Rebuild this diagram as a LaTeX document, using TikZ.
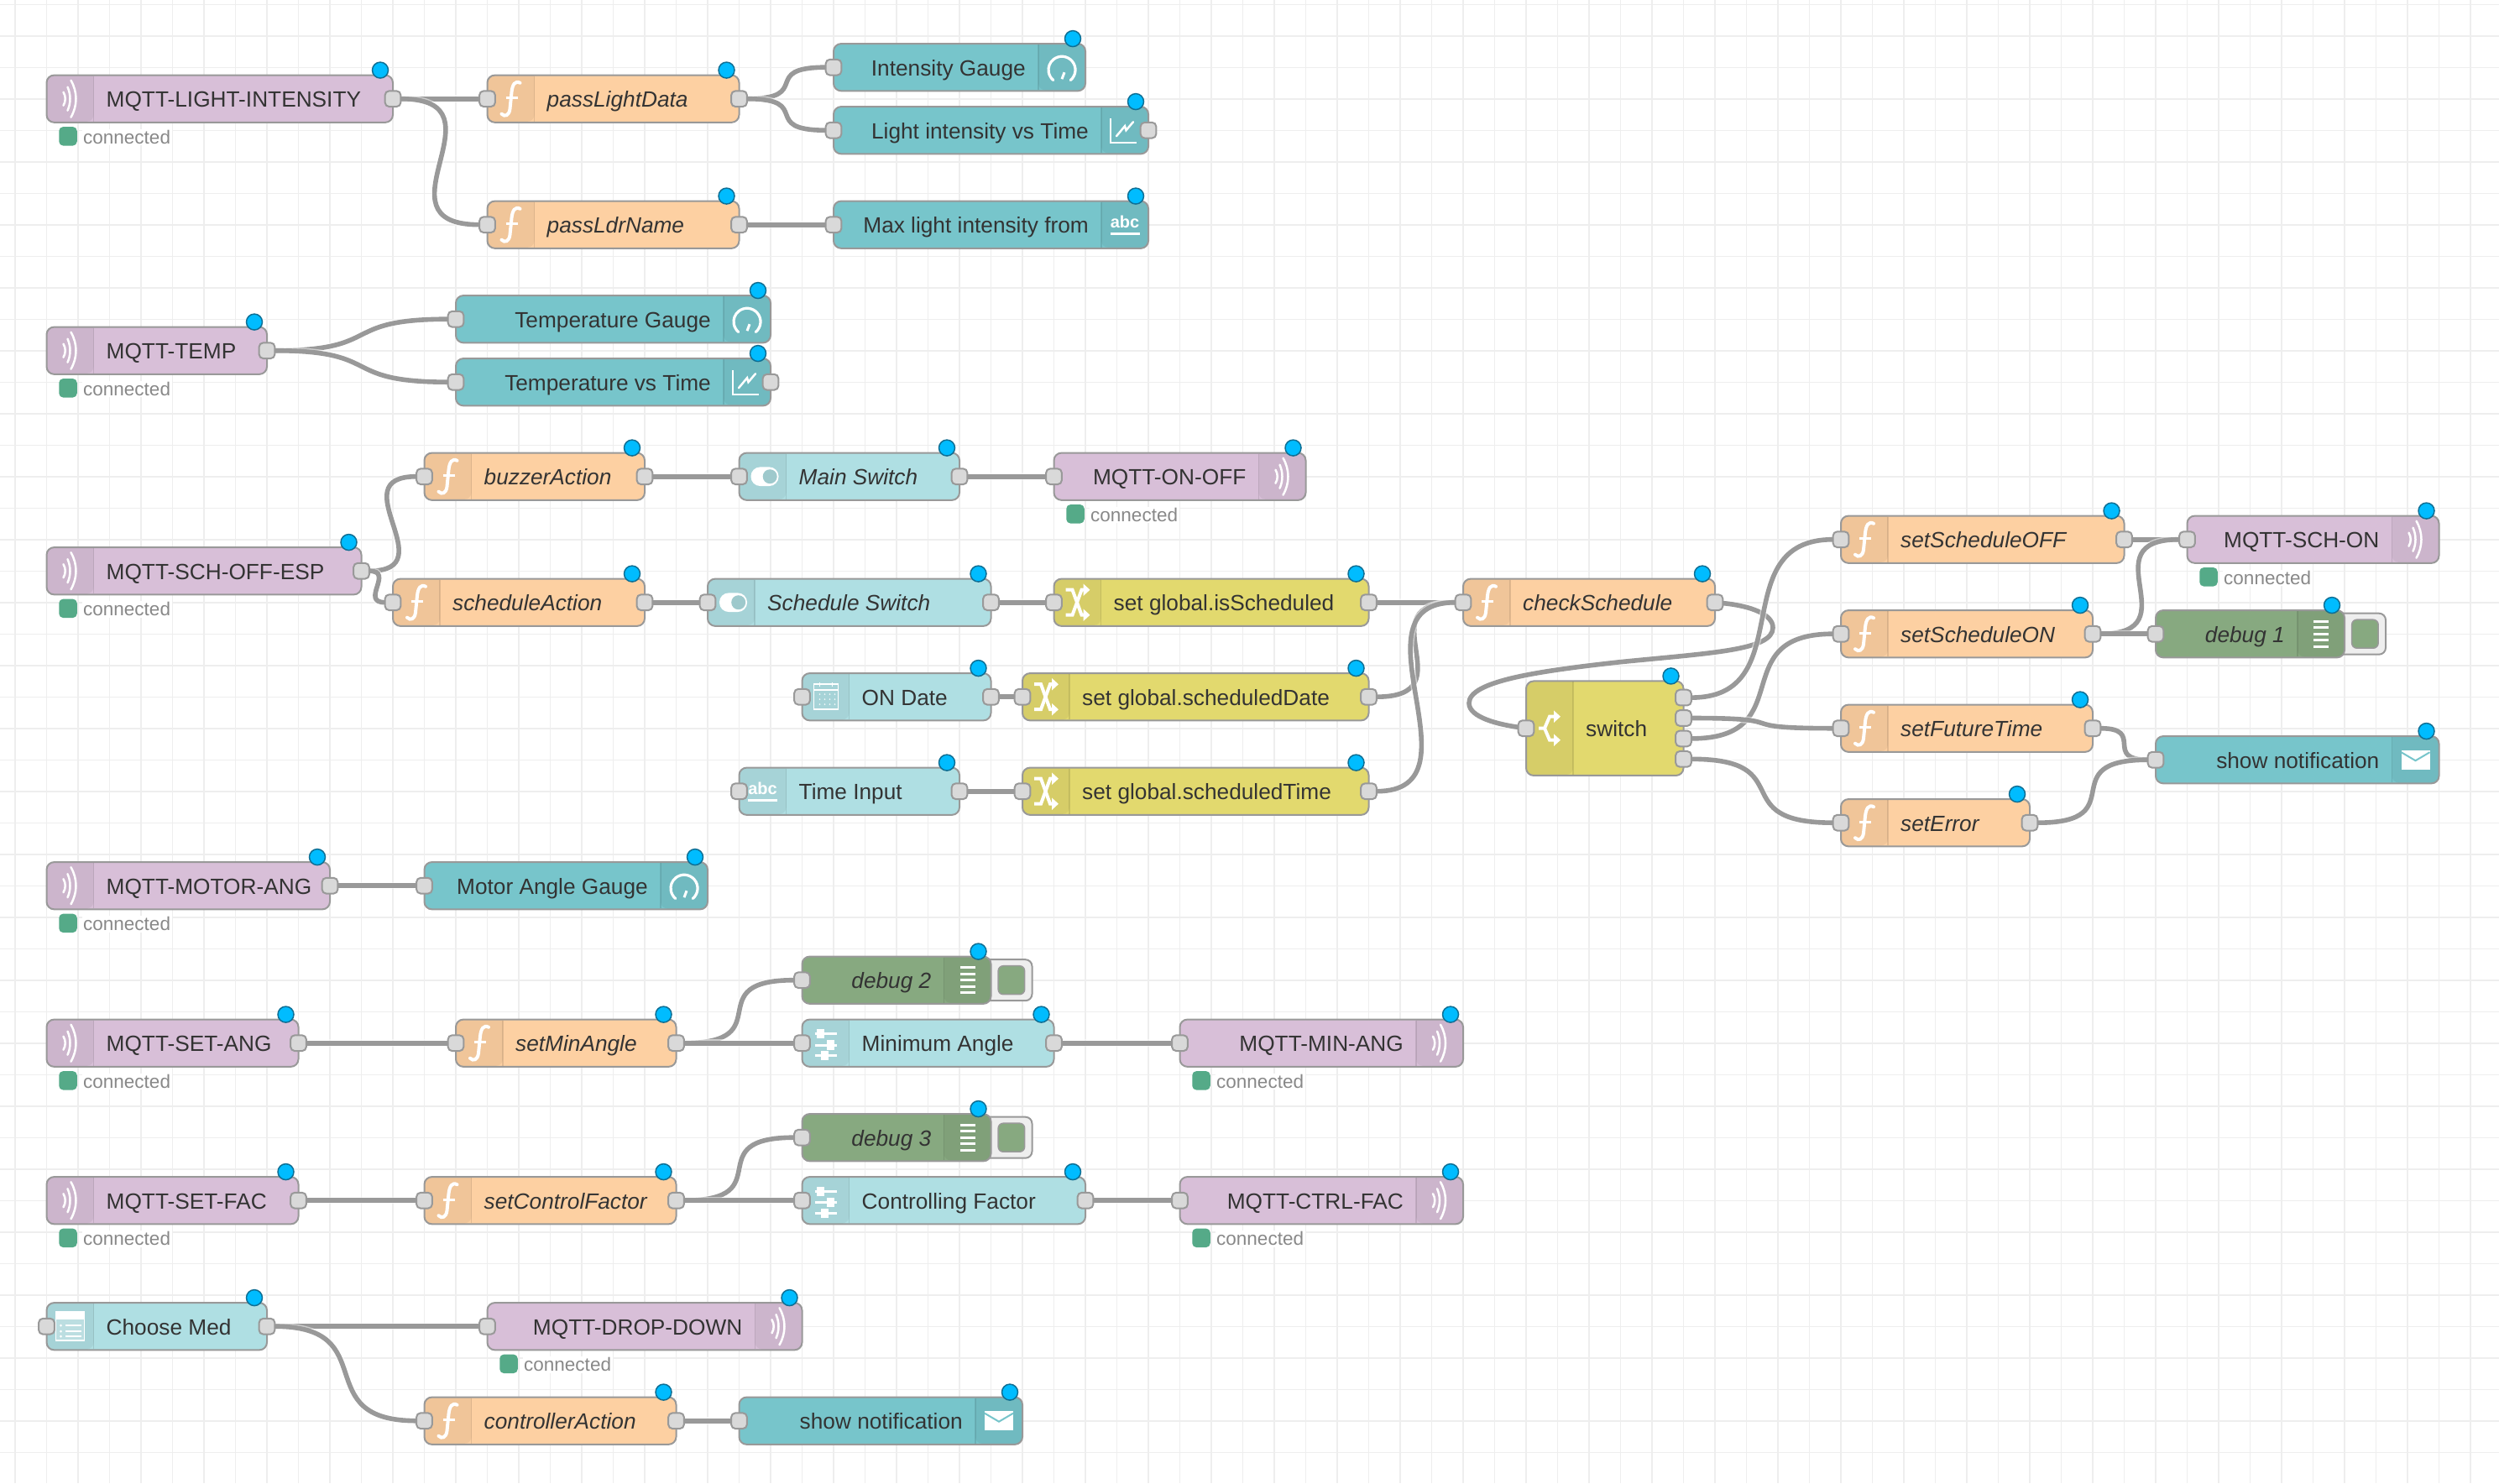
\documentclass[tikz,border=0pt]{standalone}
\usepackage{fontspec}
\setmainfont{Liberation Sans}
\usetikzlibrary{calc, backgrounds, arrows.meta}
\definecolor{edgegray}{HTML}{999999}
\definecolor{gridgray}{HTML}{EEEEEE}
\definecolor{portgray}{HTML}{D9D9D9}
\definecolor{inkgray}{HTML}{333333}
\definecolor{mutedgray}{HTML}{888888}
\definecolor{mqttfill}{HTML}{D8BFD8}
\definecolor{fnfill}{HTML}{FDD0A2}
\definecolor{tealfill}{HTML}{77C5CB}
\definecolor{paleteal}{HTML}{AFDFE3}
\definecolor{yellowfill}{HTML}{E2D96E}
\definecolor{debugfill}{HTML}{87A980}
\definecolor{changedblue}{HTML}{00BCFF}
\definecolor{changededge}{HTML}{0F6F94}
\definecolor{statusgreen}{HTML}{55AA88}
\tikzset{
    flownode/.style = {draw=edgegray, rectangle, rounded corners=9pt, line width=2pt,
      minimum height=56.25pt, inner sep=0pt, outer sep=0pt},
    mqttnode/.style = {flownode, fill=mqttfill},
    fnnode/.style = {flownode, fill=fnfill},
    tealnode/.style = {flownode, fill=tealfill},
    palenode/.style = {flownode, fill=paleteal},
    yellownode/.style = {flownode, fill=yellowfill},
    debugnode/.style = {flownode, fill=debugfill},
    portnode/.style = {draw=edgegray, fill=portgray, rectangle, rounded corners=5pt, line width=2pt,
      minimum size=18.75pt, inner sep=0pt, outer sep=0pt},
    dotnode/.style = {draw=changededge, fill=changedblue, circle, line width=1.5pt,
      minimum size=19pt, inner sep=0pt},
    statusdot/.style = {fill=statusgreen, rectangle, rounded corners=5pt, minimum width=21.5pt,
      minimum height=22.5pt, inner sep=0pt},
    labelnode/.style = {text=inkgray, inner sep=0pt, font=\fontsize{26.25}{30}\selectfont},
    statustext/.style = {text=mutedgray, fill=white, inner sep=1.5pt, font=\fontsize{22.5}{26}\selectfont},
    buttonback/.style = {draw=edgegray, fill=gridgray, rectangle, rounded corners=8pt, line width=2pt,
      minimum width=63pt, minimum height=49pt, inner sep=0pt},
    buttonface/.style = {draw=edgegray, fill=debugfill, rectangle, rounded corners=6pt, line width=1.5pt,
      minimum width=31.5pt, minimum height=34pt, inner sep=0pt},
    iconshade/.style = {black, fill opacity=0.05},
    icondivider/.style = {black, draw opacity=0.1, line width=1.5pt},
    iconline/.style = {draw=white, line width=3pt},
    gridline/.style = {draw=gridgray, line width=1.2pt},
    gridmajor/.style = {draw=gridgray, line width=2.2pt},
    halo/.style = {preaction={draw=white, draw opacity=0.5, line width=8.5pt}},
    wirebase/.style = {draw=edgegray, line width=5.6pt, halo},
    wire/.style = {wirebase, to path={let \p1=(\tikztostart), \p2=(\tikztotarget),
      \n1={min(140.6pt,0.75*veclen(\x2-\x1,\y2-\y1))} in
      .. controls ($(\tikztostart)+(\n1,0pt)$) and ($(\tikztotarget)-(\n1,0pt)$) .. (\tikztotarget)}},
    pics/fnicon/.style = {code={
      \draw [iconline, line width=4pt, line cap=round] (11,19) .. controls (5,22) and (2,17) .. (1,8) -- (-1,-12)
        .. controls (-2,-20) and (-7,-22) .. (-11,-18);
      \draw [iconline, line width=3.2pt] (-6,1) -- (8,1);
    }},
    pics/waveicon/.style = {code={
      \draw [iconline, line width=2.5pt, line cap=round] (-8,8) .. controls (-5,3) and (-5,-3) .. (-8,-8);
      \draw [iconline, line width=2.5pt, line cap=round] (-3,14) .. controls (1,5) and (1,-5) .. (-3,-14);
      \draw [iconline, line width=2.5pt, line cap=round] (1,22) .. controls (9,8) and (9,-8) .. (1,-22);
    }},
    pics/gaugeicon/.style = {code={
      \draw [iconline, line width=3.2pt, line cap=round] (10.3,-15.3) arc[start angle=-50, end angle=230, radius=16pt];
      \draw [iconline, line width=3pt] (3,-6) -- (0,-14);
    }},
    pics/charticon/.style = {code={
      \draw [iconline, line width=1.5pt] (-17,14) -- (-17,-15) -- (14,-15);
      \draw [iconline, line width=2.5pt, line cap=round] (-10,-7) -- (0,5) -- (1.5,0) -- (10,10);
    }},
    pics/abcicon/.style = {code={
      \node [text=white, inner sep=0pt, font=\bfseries\fontsize{20}{20}\selectfont, name=abcText] at (0,3) {abc};
      \draw [iconline, line width=3pt] (-17.5,-11) -- (17.5,-11);
    }},
    pics/mailicon/.style = {code={
      \fill [white] (-17,-11.5) rectangle (17,11.5);
      \draw [tealfill, line width=2pt] (-17,9) -- (0,-1) -- (17,9);
    }},
    pics/debugicon/.style = {code={
      \foreach \rowy in {-15,-7.5,0,7.5,15} {
        \draw [iconline, line width=3pt] (-9,\rowy) -- (9,\rowy);
      }
    }},
    pics/forkicon/.style = {code={
      \draw [iconline, line width=4pt, -{Triangle[length=8pt,width=14pt]}] (-13,0) -- (-6,0) -- (0,14) -- (13,14);
      \draw [iconline, line width=4pt, -{Triangle[length=8pt,width=14pt]}] (-6,0) -- (0,-14) -- (13,-14);
    }},
    pics/changeicon/.style = {code={
      \draw [iconline, line width=4pt, -{Triangle[length=8pt,width=14pt]}] (-14,15) -- (-6,15) -- (5,-15) -- (15,-15);
      \draw [iconline, line width=4pt, -{Triangle[length=8pt,width=14pt]}] (-14,-15) -- (-6,-15) -- (5,15) -- (15,15);
    }},
    pics/toggleicon/.style = {code={
      \fill [white, rounded corners=11pt] (-14,-11.3) rectangle (19,11.3);
      \fill [paleteal!90!black] (8.7,0) circle (8.5pt);
    }},
    pics/calendaricon/.style = {code={
      \draw [iconline, line width=1.5pt] (-14,-15) rectangle (15,15);
      \draw [iconline, line width=1.5pt] (-14,8) -- (15,8);
      \draw [iconline, line width=1.5pt] (-7,17) -- (-7,12);
      \draw [iconline, line width=1.5pt] (8,17) -- (8,12);
      \foreach \coly in {3,-3,-9} {
        \foreach \colx in {-7,-1,5,11} {
          \fill [white, fill opacity=0.8] (\colx,\coly) circle (1pt);
        }
      }
    }},
    pics/listicon/.style = {code={
      \draw [draw=white, fill=white, fill opacity=0.25, line width=1.5pt] (-17,-17) rectangle (17,17);
      \fill [white] (-17,8) rectangle (17,17);
      \foreach \rowy in {1,-6,-12} {
        \fill [white] (-11,\rowy) circle (1.5pt);
        \draw [iconline, line width=2pt] (-6,\rowy) -- (13,\rowy);
      }
    }},
    pics/slidericon/.style = {code={
      \foreach \rowy/\knob in {11/-6,-2.3/6,-15/-1} {
        \draw [iconline, line width=3pt] (-13,\rowy) -- (13,\rowy);
        \fill [white] (\knob-4.5,\rowy-5.7) rectangle (\knob+4.5,\rowy+5.7);
      }
    }}
}
\newcommand{\flownode}[5]{
  \node [#1, name=#2, minimum width={(#4-#3)*37.5pt}] at ({(#3+#4)/2},#5) {};
}
\newcommand{\changedmark}[1]{
  \node [dotnode, name=#1Mark] at ($(#1.north east)+(-15pt,6pt)$) {};
}
\newcommand{\iconleft}[3]{
  \fill [iconshade] ($(#1.north west)+(56pt,-1pt)$) [rounded corners=8pt] -- ($(#1.north west)+(1pt,-1pt)$)
    -- ($(#1.south west)+(1pt,1pt)$) -- ($(#1.south west)+(56pt,1pt)$) [sharp corners] -- cycle;
  \draw [icondivider] ($(#1.north west)+(56pt,-1pt)$) -- ($(#1.south west)+(56pt,1pt)$);
  \pic [x=1pt, y=1pt] at ($(#1.west)+(28pt,0pt)$) {#2};
  \node [labelnode, name=#1Label, anchor=base west] at ($(#1.west)+(71pt,-10pt)$) {#3};
  \changedmark{#1}
}
\newcommand{\iconright}[3]{
  \fill [iconshade] ($(#1.north east)+(-56pt,-1pt)$) [rounded corners=8pt] -- ($(#1.north east)+(-1pt,-1pt)$)
    -- ($(#1.south east)+(-1pt,1pt)$) -- ($(#1.south east)+(-56pt,1pt)$) [sharp corners] -- cycle;
  \draw [icondivider] ($(#1.north east)+(-56pt,-1pt)$) -- ($(#1.south east)+(-56pt,1pt)$);
  \pic [x=1pt, y=1pt] at ($(#1.east)+(-28pt,0pt)$) {#2};
  \node [labelnode, name=#1Label, anchor=base east] at ($(#1.east)+(-71pt,-10pt)$) {#3};
  \changedmark{#1}
}
\newcommand{\portin}[1]{\node [portnode, name=#1In] at (#1.west) {};}
\newcommand{\portout}[1]{\node [portnode, name=#1Out] at (#1.east) {};}
\newcommand{\statusok}[1]{
  \node [statusdot, name=#1Status] at ($(#1.south west)+(25.5pt,-16.5pt)$) {};
  \node [statustext, name=#1Conn, anchor=base west] at ($(#1.south west)+(42pt,-25.5pt)$) {connected};
}
\newcommand{\debugbutton}[1]{
  \begin{scope}[on background layer]
  \node [buttonback, name=#1Back] at ($(#1.east)+(17.5pt,0pt)$) {};
  \end{scope}
  \node [buttonface, name=#1Face] at ($(#1.east)+(24.4pt,0pt)$) {};
}

\begin{document}
\begin{tikzpicture}[x=37.5pt, y=-37.5pt]
\useasboundingbox (-0.48,-0.13867) rectangle (78.9067,46.9813);
\begin{scope}[on background layer]
\fill [white] (-0.48,-0.13867) rectangle (78.9067,46.9813);
\foreach \k in {0,2,...,78} {\draw [gridmajor] (\k,-0.13867) -- (\k,46.9813);}
\foreach \k in {1,3,...,77} {\draw [gridline] (\k,-0.13867) -- (\k,46.9813);}
\foreach \k in {1,3,...,45} {\draw [gridmajor] (-0.48,\k) -- (78.9067,\k);}
\foreach \k in {0,2,...,46} {\draw [gridline] (-0.48,\k) -- (78.9067,\k);}
\end{scope}

\flownode{mqttnode}{lightMqtt}{1}{12}{3}
\iconleft{lightMqtt}{waveicon}{MQTT-LIGHT-INTENSITY}
\portout{lightMqtt}
\statusok{lightMqtt}
\flownode{fnnode}{passLight}{15}{23}{3}
\iconleft{passLight}{fnicon}{\textit{passLightData}}
\portin{passLight}
\portout{passLight}
\flownode{fnnode}{passLdr}{15}{23}{7}
\iconleft{passLdr}{fnicon}{\textit{passLdrName}}
\portin{passLdr}
\portout{passLdr}
\flownode{tealnode}{intensityGauge}{26}{34}{2}
\iconright{intensityGauge}{gaugeicon}{Intensity Gauge}
\portin{intensityGauge}
\flownode{tealnode}{lightChart}{26}{36}{4}
\iconright{lightChart}{charticon}{Light intensity vs Time}
\portin{lightChart}
\portout{lightChart}
\flownode{tealnode}{maxLight}{26}{36}{7}
\iconright{maxLight}{abcicon}{Max light intensity from}
\portin{maxLight}

\flownode{mqttnode}{tempMqtt}{1}{8}{11}
\iconleft{tempMqtt}{waveicon}{MQTT-TEMP}
\portout{tempMqtt}
\statusok{tempMqtt}
\flownode{tealnode}{tempGauge}{14}{24}{10}
\iconright{tempGauge}{gaugeicon}{Temperature Gauge}
\portin{tempGauge}
\flownode{tealnode}{tempChart}{14}{24}{12}
\iconright{tempChart}{charticon}{Temperature vs Time}
\portin{tempChart}
\portout{tempChart}

\flownode{fnnode}{buzzerAction}{13}{20}{15}
\iconleft{buzzerAction}{fnicon}{\textit{buzzerAction}}
\portin{buzzerAction}
\portout{buzzerAction}
\flownode{palenode}{mainSwitch}{23}{30}{15}
\iconleft{mainSwitch}{toggleicon}{\textit{Main Switch}}
\portin{mainSwitch}
\portout{mainSwitch}
\flownode{mqttnode}{onOffMqtt}{33}{41}{15}
\iconright{onOffMqtt}{waveicon}{MQTT-ON-OFF}
\portin{onOffMqtt}
\statusok{onOffMqtt}
\flownode{mqttnode}{schOffMqtt}{1}{11}{18}
\iconleft{schOffMqtt}{waveicon}{MQTT-SCH-OFF-ESP}
\portout{schOffMqtt}
\statusok{schOffMqtt}
\flownode{fnnode}{scheduleAction}{12}{20}{19}
\iconleft{scheduleAction}{fnicon}{\textit{scheduleAction}}
\portin{scheduleAction}
\portout{scheduleAction}
\flownode{palenode}{scheduleSwitch}{22}{31}{19}
\iconleft{scheduleSwitch}{toggleicon}{\textit{Schedule Switch}}
\portin{scheduleSwitch}
\portout{scheduleSwitch}
\flownode{yellownode}{isScheduled}{33}{43}{19}
\iconleft{isScheduled}{changeicon}{set global.isScheduled}
\portin{isScheduled}
\portout{isScheduled}
\flownode{palenode}{onDate}{25}{31}{22}
\iconleft{onDate}{calendaricon}{ON Date}
\portin{onDate}
\portout{onDate}
\flownode{yellownode}{scheduledDate}{32}{43}{22}
\iconleft{scheduledDate}{changeicon}{set global.scheduledDate}
\portin{scheduledDate}
\portout{scheduledDate}
\flownode{palenode}{timeInput}{23}{30}{25}
\iconleft{timeInput}{abcicon}{Time Input}
\portin{timeInput}
\portout{timeInput}
\flownode{yellownode}{scheduledTime}{32}{43}{25}
\iconleft{scheduledTime}{changeicon}{set global.scheduledTime}
\portin{scheduledTime}
\portout{scheduledTime}
\flownode{fnnode}{checkSchedule}{46}{54}{19}
\iconleft{checkSchedule}{fnicon}{\textit{checkSchedule}}
\portin{checkSchedule}
\portout{checkSchedule}
\flownode{yellownode, minimum height=112.5pt}{switchNode}{48}{53}{23}
\iconleft{switchNode}{forkicon}{switch}
\portin{switchNode}
\node [portnode, name=switchNodeOutA] at ($(switchNode.east)+(0pt,36.6pt)$) {};
\node [portnode, name=switchNodeOutB] at ($(switchNode.east)+(0pt,12.2pt)$) {};
\node [portnode, name=switchNodeOutC] at ($(switchNode.east)+(0pt,-12.2pt)$) {};
\node [portnode, name=switchNodeOutD] at ($(switchNode.east)+(0pt,-36.6pt)$) {};
\flownode{fnnode}{setScheduleOff}{58}{67}{17}
\iconleft{setScheduleOff}{fnicon}{\textit{setScheduleOFF}}
\portin{setScheduleOff}
\portout{setScheduleOff}
\flownode{fnnode}{setScheduleOn}{58}{66}{20}
\iconleft{setScheduleOn}{fnicon}{\textit{setScheduleON}}
\portin{setScheduleOn}
\portout{setScheduleOn}
\flownode{fnnode}{setFuture}{58}{66}{23}
\iconleft{setFuture}{fnicon}{\textit{setFutureTime}}
\portin{setFuture}
\portout{setFuture}
\flownode{fnnode}{setError}{58}{64}{26}
\iconleft{setError}{fnicon}{\textit{setError}}
\portin{setError}
\portout{setError}
\flownode{mqttnode}{schOnMqtt}{69}{77}{17}
\iconright{schOnMqtt}{waveicon}{MQTT-SCH-ON}
\portin{schOnMqtt}
\statusok{schOnMqtt}
\flownode{debugnode}{debugOne}{68}{74}{20}
\iconright{debugOne}{debugicon}{\textit{debug 1}}
\portin{debugOne}
\debugbutton{debugOne}
\flownode{tealnode}{notifyMain}{68}{77}{24}
\iconright{notifyMain}{mailicon}{show notification}
\portin{notifyMain}

\flownode{mqttnode}{motorMqtt}{1}{10}{28}
\iconleft{motorMqtt}{waveicon}{MQTT-MOTOR-ANG}
\portout{motorMqtt}
\statusok{motorMqtt}
\flownode{tealnode}{motorGauge}{13}{22}{28}
\iconright{motorGauge}{gaugeicon}{Motor Angle Gauge}
\portin{motorGauge}

\flownode{debugnode}{debugTwo}{25}{31}{31}
\iconright{debugTwo}{debugicon}{\textit{debug 2}}
\portin{debugTwo}
\debugbutton{debugTwo}
\flownode{mqttnode}{setAngMqtt}{1}{9}{33}
\iconleft{setAngMqtt}{waveicon}{MQTT-SET-ANG}
\portout{setAngMqtt}
\statusok{setAngMqtt}
\flownode{fnnode}{setMinAngle}{14}{21}{33}
\iconleft{setMinAngle}{fnicon}{\textit{setMinAngle}}
\portin{setMinAngle}
\portout{setMinAngle}
\flownode{palenode}{minAngle}{25}{33}{33}
\iconleft{minAngle}{slidericon}{Minimum Angle}
\portin{minAngle}
\portout{minAngle}
\flownode{mqttnode}{minAngMqtt}{37}{46}{33}
\iconright{minAngMqtt}{waveicon}{MQTT-MIN-ANG}
\portin{minAngMqtt}
\statusok{minAngMqtt}

\flownode{debugnode}{debugThree}{25}{31}{36}
\iconright{debugThree}{debugicon}{\textit{debug 3}}
\portin{debugThree}
\debugbutton{debugThree}
\flownode{mqttnode}{setFacMqtt}{1}{9}{38}
\iconleft{setFacMqtt}{waveicon}{MQTT-SET-FAC}
\portout{setFacMqtt}
\statusok{setFacMqtt}
\flownode{fnnode}{setControl}{13}{21}{38}
\iconleft{setControl}{fnicon}{\textit{setControlFactor}}
\portin{setControl}
\portout{setControl}
\flownode{palenode}{controlFactor}{25}{34}{38}
\iconleft{controlFactor}{slidericon}{Controlling Factor}
\portin{controlFactor}
\portout{controlFactor}
\flownode{mqttnode}{ctrlFacMqtt}{37}{46}{38}
\iconright{ctrlFacMqtt}{waveicon}{MQTT-CTRL-FAC}
\portin{ctrlFacMqtt}
\statusok{ctrlFacMqtt}

\flownode{palenode}{chooseMed}{1}{8}{42}
\iconleft{chooseMed}{listicon}{Choose Med}
\portin{chooseMed}
\portout{chooseMed}
\flownode{mqttnode}{dropDownMqtt}{15}{25}{42}
\iconright{dropDownMqtt}{waveicon}{MQTT-DROP-DOWN}
\portin{dropDownMqtt}
\statusok{dropDownMqtt}
\flownode{fnnode}{controllerAction}{13}{21}{45}
\iconleft{controllerAction}{fnicon}{\textit{controllerAction}}
\portin{controllerAction}
\portout{controllerAction}
\flownode{tealnode}{notifyMed}{23}{32}{45}
\iconright{notifyMed}{mailicon}{show notification}
\portin{notifyMed}

\begin{scope}[on background layer]
\draw (lightMqttOut) edge[wire] (passLightIn);
\draw (lightMqttOut) edge[wire] (passLdrIn);
\draw (passLightOut) edge[wire] (intensityGaugeIn);
\draw (passLightOut) edge[wire] (lightChartIn);
\draw (passLdrOut) edge[wire] (maxLightIn);
\draw (tempMqttOut) edge[wire] (tempGaugeIn);
\draw (tempMqttOut) edge[wire] (tempChartIn);
\draw (schOffMqttOut) edge[wire] (buzzerActionIn);
\draw (schOffMqttOut) edge[wire] (scheduleActionIn);
\draw (buzzerActionOut) edge[wire] (mainSwitchIn);
\draw (mainSwitchOut) edge[wire] (onOffMqttIn);
\draw (scheduleActionOut) edge[wire] (scheduleSwitchIn);
\draw (scheduleSwitchOut) edge[wire] (isScheduledIn);
\draw (isScheduledOut) edge[wire] (checkScheduleIn);
\draw (onDateOut) edge[wire] (scheduledDateIn);
\draw (scheduledDateOut) edge[wire] (checkScheduleIn);
\draw (timeInputOut) edge[wire] (scheduledTimeIn);
\draw (scheduledTimeOut) edge[wire] (checkScheduleIn);
\draw [wirebase] (checkScheduleOut) .. controls ($(checkScheduleOut)+(42pt,-4pt)$) and ($(checkScheduleOut)+(69pt,-14pt)$)
  .. ($(checkScheduleOut)+(69pt,-30pt)$) .. controls ($(checkScheduleOut)+(69pt,-57pt)$) and ($(checkScheduleOut)+(-3pt,-60pt)$)
  .. ($(checkScheduleOut)+(-113pt,-71pt)$) .. controls ($(checkScheduleOut)+(-213pt,-82pt)$) and ($(checkScheduleOut)+(-293pt,-94pt)$)
  .. ($(checkScheduleOut)+(-293pt,-120pt)$) .. controls ($(checkScheduleOut)+(-293pt,-137pt)$) and ($(switchNodeIn)+(-33pt,4.7pt)$)
  .. (switchNodeIn);
\draw (switchNodeOutA) edge[wire] (setScheduleOffIn);
\draw (switchNodeOutC) edge[wire] (setScheduleOnIn);
\draw (switchNodeOutB) edge[wire] (setFutureIn);
\draw (switchNodeOutD) edge[wire] (setErrorIn);
\draw (setScheduleOffOut) edge[wire] (schOnMqttIn);
\draw (setScheduleOnOut) edge[wire] (schOnMqttIn);
\draw (setScheduleOnOut) edge[wire] (debugOneIn);
\draw (setFutureOut) edge[wire] (notifyMainIn);
\draw (setErrorOut) edge[wire] (notifyMainIn);
\draw (motorMqttOut) edge[wire] (motorGaugeIn);
\draw (setAngMqttOut) edge[wire] (setMinAngleIn);
\draw (setMinAngleOut) edge[wire] (debugTwoIn);
\draw (setMinAngleOut) edge[wire] (minAngleIn);
\draw (minAngleOut) edge[wire] (minAngMqttIn);
\draw (setFacMqttOut) edge[wire] (setControlIn);
\draw (setControlOut) edge[wire] (debugThreeIn);
\draw (setControlOut) edge[wire] (controlFactorIn);
\draw (controlFactorOut) edge[wire] (ctrlFacMqttIn);
\draw (chooseMedOut) edge[wire] (dropDownMqttIn);
\draw (chooseMedOut) edge[wire] (controllerActionIn);
\draw (controllerActionOut) edge[wire] (notifyMedIn);
\end{scope}
\end{tikzpicture}
\end{document}
